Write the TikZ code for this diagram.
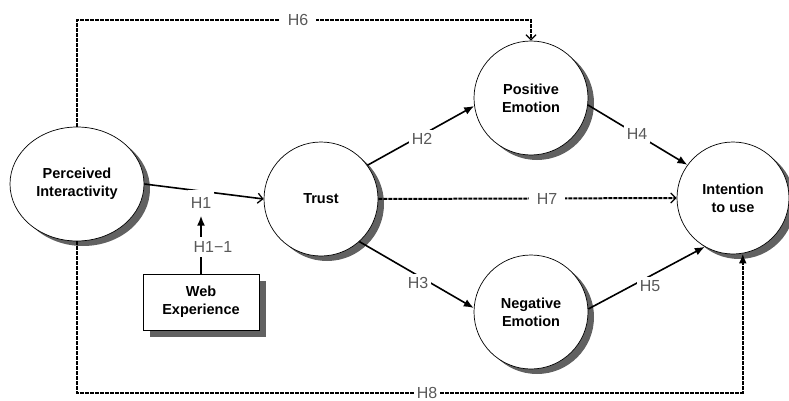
\documentclass[tikz,border=0pt]{standalone}
\usepackage{fontspec}
\setmainfont{Liberation Sans}
\usetikzlibrary{shapes.geometric,shadows,arrows.meta}
\begin{document}
\begin{tikzpicture}[x=1pt,y=-1pt,
  construct/.style={circle,draw,line width=0.7pt,fill=white,minimum size=114pt,inner sep=0pt,align=center,
    font=\fontsize{14.5}{18}\selectfont\bfseries,
    drop shadow={shadow xshift=6pt,shadow yshift=-5pt,fill=black!62,opacity=1}},
  box/.style={rectangle,draw,line width=0.7pt,fill=white,minimum width=116pt,minimum height=56pt,align=center,
    font=\fontsize{14.5}{18}\selectfont\bfseries,
    drop shadow={shadow xshift=7pt,shadow yshift=-7pt,fill=black!62,opacity=1}},
  hlabel/.style={fill=white,inner sep=3pt,text=black!65,font=\fontsize{16}{16}\selectfont},
  solidarrow/.style={line width=1.6pt,-{Latex[length=10pt,width=8pt]}},
  openarrow/.style={line width=1.6pt,-{Straight Barb[length=5pt,width=10pt,line width=1.3pt]}},
  dasharrow/.style={dash pattern=on 4pt off 1pt}]
\useasboundingbox (0,0) rectangle (789,401);

\node[construct,ellipse,minimum width=134pt,minimum height=114pt] (pi) at (77,184) {Perceived\\Interactivity};
\node[construct] (trust) at (321,199) {Trust};
\node[construct] (pos) at (531,98) {Positive\\Emotion};
\node[construct] (neg) at (531,312) {Negative\\Emotion};
\node[construct,minimum size=112pt] (int) at (733,198) {Intention\\to use};
\node[box] (web) at (201,302) {Web\\Experience};

% paths
\draw[openarrow] (pi.east) -- (trust.west);
\node[hlabel,inner ysep=7pt] (h1) at (201,203) {H1};
\draw[solidarrow] (web.north) -- (h1.south);
\node[hlabel,inner sep=4pt] (h11) at (213,247) {H1−1};

\draw[solidarrow] (trust.36) -- (pos.-172);
\node[hlabel] (h2) at (422,139) {H2};
\draw[solidarrow] (trust.-48) -- (neg.176);
\node[hlabel] (h3) at (418,283) {H3};
\draw[solidarrow] (pos.-7) -- (int.144);
\node[hlabel] (h4) at (637,134) {H4};
\draw[solidarrow] (neg.3) -- (int.-120);
\node[hlabel] (h5) at (650,286) {H5};

\draw[openarrow,dasharrow,line width=2pt] (trust.east) -- (int.west);
\node[hlabel,inner xsep=8pt] (h7) at (547,199) {H7};
\draw[openarrow,dasharrow,line width=2pt] (pi.north) -- (pi.north |- 0,20) -| (pos.north);
\node[hlabel,inner xsep=8pt] (h6) at (298,20) {H6};
\draw[solidarrow,dasharrow,line width=2pt] (pi.south) -- (pi.south |- 0,393) -| (int.-80);
\node[hlabel,inner xsep=3pt,inner ysep=1pt] (h8) at (427,393) {H8};

\end{tikzpicture}
\end{document}
